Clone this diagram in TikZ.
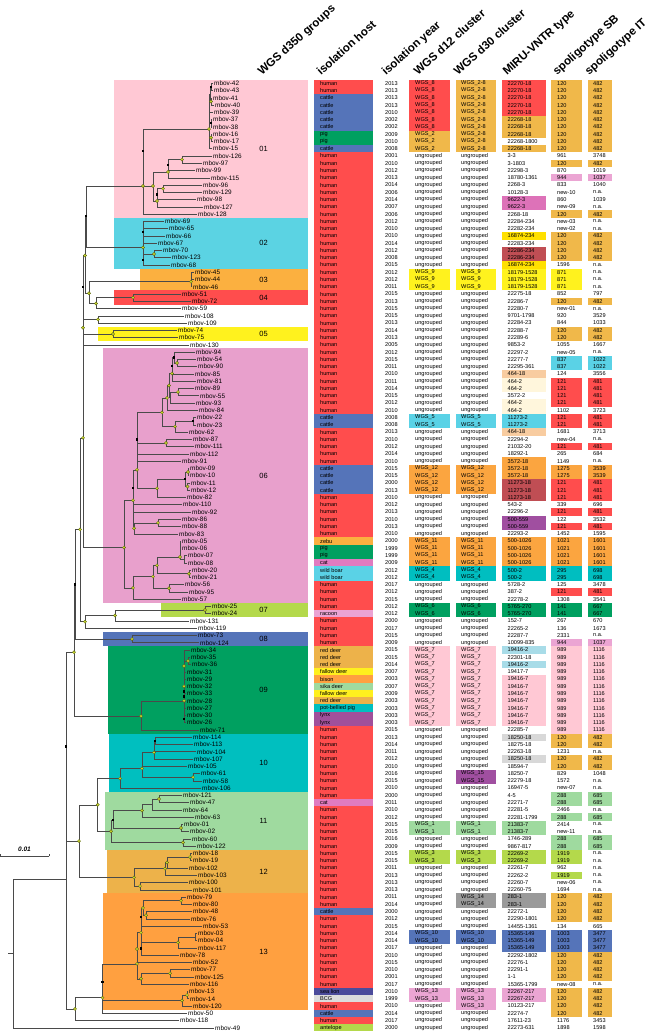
\documentclass[tikz,border=0pt]{standalone}
\usepackage{fontspec}
\setmainfont{Liberation Sans}
% host colours
\definecolor{hu}{HTML}{FF4D4D}\definecolor{ca}{HTML}{5574B9}\definecolor{pi}{HTML}{00A060}
\definecolor{ze}{HTML}{FBB040}\definecolor{ct}{HTML}{E07BC0}\definecolor{wb}{HTML}{5AD2E6}
\definecolor{ra}{HTML}{EBA3D3}\definecolor{rd}{HTML}{EDB24A}\definecolor{fd}{HTML}{FFF01E}
\definecolor{bi}{HTML}{FFA040}\definecolor{sd}{HTML}{9FDA9F}\definecolor{pb}{HTML}{00BFBF}
\definecolor{ly}{HTML}{A0509B}\definecolor{sl}{HTML}{4B4B9B}\definecolor{bc}{HTML}{DCDCDC}
\definecolor{an}{HTML}{B4D94B}
% cell colours
\definecolor{w}{HTML}{FFFFFF}\definecolor{cR}{HTML}{FF4D4D}\definecolor{cO}{HTML}{F0B84A}
\definecolor{cY}{HTML}{FFF21E}\definecolor{cYg}{HTML}{FFE000}\definecolor{cPk}{HTML}{EBA5D3}
\definecolor{cMg}{HTML}{DD72B8}\definecolor{cDr}{HTML}{C04E54}\definecolor{cCy}{HTML}{5AD2E6}
\definecolor{cPe}{HTML}{F8CCA0}\definecolor{cCr}{HTML}{FFF6DC}\definecolor{cOr}{HTML}{FBA540}
\definecolor{cPu}{HTML}{A04FA0}\definecolor{cTe}{HTML}{00BEC0}\definecolor{cGr}{HTML}{00A060}
\definecolor{cLp}{HTML}{FFC8D4}\definecolor{cLb}{HTML}{A8DCE8}\definecolor{cGy}{HTML}{D8D8D8}
\definecolor{cLg}{HTML}{9FDA9F}\definecolor{cLi}{HTML}{B4D94B}\definecolor{cDg}{HTML}{9A9A9A}
\definecolor{cBl}{HTML}{5574B9}
% group colours
\definecolor{gp01}{HTML}{FFC8D4}\definecolor{gp02}{HTML}{5BD3E3}\definecolor{gp03}{HTML}{FBB040}
\definecolor{gp04}{HTML}{FF4D4D}\definecolor{gp05}{HTML}{FFF21E}\definecolor{gp06}{HTML}{E8A0CC}
\definecolor{gp07}{HTML}{B4D94B}\definecolor{gp08}{HTML}{5574B9}\definecolor{gp09}{HTML}{00A060}
\definecolor{gp10}{HTML}{00BFBF}\definecolor{gp11}{HTML}{9FDA9F}\definecolor{gp12}{HTML}{EDB24A}
\definecolor{gp13}{HTML}{FFA040}
\definecolor{ydotc}{HTML}{C9D62F}\definecolor{ydotd}{HTML}{55600A}\definecolor{treec}{HTML}{4A4A4A}
\begin{document}
\begin{tikzpicture}[x=1pt,y=-7.265pt,
  tree/.style={draw=treec,line width=0.5pt},
  leaf/.style={anchor=west,inner xsep=1.2pt,inner ysep=0pt,font=\fontsize{6.4}{6.6}\selectfont},
  tab/.style={anchor=west,inner sep=0pt,font=\fontsize{5.6}{6}\selectfont},
  grp/.style={inner sep=0pt,font=\fontsize{7.5}{8}\selectfont},
  hdr/.style={rotate=42,anchor=base west,inner sep=0pt,font=\bfseries\fontsize{11.5}{12}\selectfont},
  ydot/.style={circle,fill=ydotc,draw=ydotd,line width=0.3pt,inner sep=0pt,minimum size=3.2pt},
  bdot/.style={rectangle,fill=black,inner sep=0pt,minimum size=2.4pt}]
\begin{scope}[yshift=-76.035pt]
\useasboundingbox (0,-10.466) rectangle (652,131.58);
% group backgrounds
\foreach \gn/\gx/\ga/\gb in {01/114/1/19,02/114/20/26,03/140/27/29,04/114/30/31,05/98/35/36,06/103/38/72,07/161/73/74,08/103/77/78,09/108/79/90,10/109/91/98,11/105/99/106,12/107/107/112,13/103/113/128}{
  \path[fill=gp\gn] (\gx,\ga-0.5) rectangle (308,\gb+0.5);
  \node[grp] (G\gn) at (263.5,{(\ga+\gb)/2}) {\gn};
}
% headers
\node[hdr] (h1) at (262,0) {WGS d350 groups};
\node[hdr] (h2) at (321,0) {isolation host};
\node[hdr] (h3) at (386,0) {isolation year};
\node[hdr] (h4) at (418,0) {WGS d12 cluster};
\node[hdr] (h5) at (458,0) {WGS d30 cluster};
\node[hdr] (h6) at (507,0) {MIRU-VNTR type};
\node[hdr] (h7) at (557,0) {spoligotype SB};
\node[hdr] (h8) at (589,0) {spoligotype IT};
% table
\foreach \vr/\vhc/\vht/\vyr/\vda/\vca/\vdb/\vcb/\vmi/\vcm/\vsb/\vcs/\vit/\vci in {
1/hu/human/2013/WGS\_8/cR/WGS\_2-8/cO/22270-18/cR/120/cO/482/cO,
2/hu/human/2013/WGS\_8/cR/WGS\_2-8/cO/22270-18/cR/120/cO/482/cO,
3/ca/cattle/2013/WGS\_8/cR/WGS\_2-8/cO/22270-18/cR/120/cO/482/cO,
4/ca/cattle/2013/WGS\_8/cR/WGS\_2-8/cO/22270-18/cR/120/cO/482/cO,
5/ca/cattle/2010/WGS\_8/cR/WGS\_2-8/cO/22270-18/cR/120/cO/482/cO,
6/ca/cattle/2002/WGS\_8/cR/WGS\_2-8/cO/22268-18/cO/120/cO/482/cO,
7/ca/cattle/2002/WGS\_8/cR/WGS\_2-8/cO/22268-18/cO/120/cO/482/cO,
8/pi/pig/2009/WGS\_2/cO/WGS\_2-8/cO/22268-18/cO/120/cO/482/cO,
9/pi/pig/2010/WGS\_2/cO/WGS\_2-8/cO/22268-1800/w/120/cO/482/cO,
10/ca/cattle/2008/WGS\_2/cO/WGS\_2-8/cO/22268-18/cO/120/cO/482/cO,
11/hu/human/2001/ungrouped/w/ungrouped/w/3-3/w/961/w/3748/w,
12/hu/human/2010/ungrouped/w/ungrouped/w/3-1803/w/120/cO/482/cO,
13/hu/human/2012/ungrouped/w/ungrouped/w/22298-3/w/870/w/1019/w,
14/hu/human/2013/ungrouped/w/ungrouped/w/18780-1361/w/944/cPk/1037/cPk,
15/hu/human/2014/ungrouped/w/ungrouped/w/2268-3/w/833/w/1040/w,
16/hu/human/2006/ungrouped/w/ungrouped/w/10128-3/w/new-10/w/n.a./w,
17/hu/human/2014/ungrouped/w/ungrouped/w/9622-3/cMg/860/w/1039/w,
18/hu/human/2007/ungrouped/w/ungrouped/w/9622-3/cMg/new-09/w/n.a./w,
19/hu/human/2006/ungrouped/w/ungrouped/w/2268-18/w/120/cO/482/cO,
20/hu/human/2012/ungrouped/w/ungrouped/w/22284-234/w/new-03/w/n.a./w,
21/hu/human/2010/ungrouped/w/ungrouped/w/22282-234/w/new-02/w/n.a./w,
22/hu/human/2010/ungrouped/w/ungrouped/w/16874-234/cYg/120/cO/482/cO,
23/hu/human/2014/ungrouped/w/ungrouped/w/22283-234/w/120/cO/482/cO,
24/hu/human/2012/ungrouped/w/ungrouped/w/22286-234/cDr/120/cO/482/cO,
25/hu/human/2008/ungrouped/w/ungrouped/w/22286-234/cDr/120/cO/482/cO,
26/hu/human/2015/ungrouped/w/ungrouped/w/16874-234/cYg/1596/w/n.a./w,
27/hu/human/2012/WGS\_9/cY/WGS\_9/cY/18179-1528/cY/871/cY/n.a./w,
28/hu/human/2012/WGS\_9/cY/WGS\_9/cY/18179-1528/cY/871/cY/n.a./w,
29/hu/human/2011/WGS\_9/cY/WGS\_9/cY/18179-1528/cY/871/cY/n.a./w,
30/hu/human/2015/ungrouped/w/ungrouped/w/22275-18/w/852/w/797/w,
31/hu/human/2013/ungrouped/w/ungrouped/w/22286-7/w/120/cO/482/cO,
32/hu/human/2015/ungrouped/w/ungrouped/w/22280-7/w/new-01/w/n.a./w,
33/hu/human/2015/ungrouped/w/ungrouped/w/9701-1798/w/920/w/3529/w,
34/hu/human/2013/ungrouped/w/ungrouped/w/22284-23/w/844/w/1033/w,
35/hu/human/2014/ungrouped/w/ungrouped/w/22288-7/w/120/cO/482/cO,
36/hu/human/2013/ungrouped/w/ungrouped/w/22289-6/w/120/cO/482/cO,
37/hu/human/2005/ungrouped/w/ungrouped/w/9853-2/w/1055/w/1667/w,
38/hu/human/2012/ungrouped/w/ungrouped/w/22297-2/w/new-05/w/n.a./w,
39/hu/human/2015/ungrouped/w/ungrouped/w/22277-7/w/837/cCy/1022/cCy,
40/hu/human/2011/ungrouped/w/ungrouped/w/22295-361/w/837/cCy/1022/cCy,
41/hu/human/2010/ungrouped/w/ungrouped/w/464-18/cPe/124/w/3556/w,
42/hu/human/2011/ungrouped/w/ungrouped/w/464-2/cCr/121/cR/481/cR,
43/hu/human/2014/ungrouped/w/ungrouped/w/464-2/cCr/121/cR/481/cR,
44/hu/human/2015/ungrouped/w/ungrouped/w/3572-2/w/121/cR/481/cR,
45/hu/human/2012/ungrouped/w/ungrouped/w/464-2/cCr/121/cR/481/cR,
46/hu/human/2010/ungrouped/w/ungrouped/w/464-2/cCr/1102/w/3723/w,
47/ca/cattle/2008/WGS\_5/cCy/WGS\_5/cCy/11273-2/cCy/121/cR/481/cR,
48/ca/cattle/2008/WGS\_5/cCy/WGS\_5/cCy/11273-2/cCy/121/cR/481/cR,
49/hu/human/2013/ungrouped/w/ungrouped/w/464-18/cPe/1681/w/3713/w,
50/hu/human/2010/ungrouped/w/ungrouped/w/22294-2/w/new-04/w/n.a./w,
51/hu/human/2012/ungrouped/w/ungrouped/w/21032-20/w/121/cR/481/cR,
52/hu/human/2014/ungrouped/w/ungrouped/w/18292-1/w/265/w/684/w,
53/hu/human/2010/ungrouped/w/ungrouped/w/3572-18/cOr/1149/w/n.a./w,
54/ca/cattle/2015/WGS\_12/cOr/WGS\_12/cOr/3572-18/cOr/1275/cOr/3539/cOr,
55/ca/cattle/2015/WGS\_12/cOr/WGS\_12/cOr/3572-18/cOr/1275/cOr/3539/cOr,
56/ca/cattle/2000/WGS\_12/cOr/WGS\_12/cOr/11273-18/cDr/121/cR/481/cR,
57/ca/cattle/2013/WGS\_12/cOr/WGS\_12/cOr/11273-18/cDr/121/cR/481/cR,
58/hu/human/2010/ungrouped/w/ungrouped/w/11273-18/cDr/121/cR/481/cR,
59/hu/human/2012/ungrouped/w/ungrouped/w/543-2/w/339/w/696/w,
60/hu/human/2013/ungrouped/w/ungrouped/w/22296-2/w/121/cR/481/cR,
61/hu/human/2010/ungrouped/w/ungrouped/w/500-559/cPu/122/w/3532/w,
62/hu/human/2013/ungrouped/w/ungrouped/w/500-559/cPu/121/cR/481/cR,
63/hu/human/2010/ungrouped/w/ungrouped/w/22293-2/w/1452/w/1595/w,
64/ze/zebu/2000/WGS\_11/cOr/WGS\_11/cOr/500-1026/cOr/1021/cOr/1601/cOr,
65/pi/pig/1999/WGS\_11/cOr/WGS\_11/cOr/500-1026/cOr/1021/cOr/1601/cOr,
66/pi/pig/1999/WGS\_11/cOr/WGS\_11/cOr/500-1026/cOr/1021/cOr/1601/cOr,
67/ct/cat/2009/WGS\_11/cOr/WGS\_11/cOr/500-1026/cOr/1021/cOr/1601/cOr,
68/wb/wild boar/2012/WGS\_4/cTe/WGS\_4/cTe/500-2/cTe/295/cTe/698/cTe,
69/wb/wild boar/2012/WGS\_4/cTe/WGS\_4/cTe/500-2/cTe/295/cTe/698/cTe,
70/hu/human/2017/ungrouped/w/ungrouped/w/5728-2/w/125/w/3478/w,
71/hu/human/2012/ungrouped/w/ungrouped/w/387-2/w/121/cR/481/cR,
72/hu/human/2015/ungrouped/w/ungrouped/w/22278-2/w/1308/w/3541/w,
73/hu/human/2012/WGS\_6/cGr/WGS\_6/cGr/5765-270/cGr/141/cGr/667/cGr,
74/ra/racoon/2012/WGS\_6/cGr/WGS\_6/cGr/5765-270/cGr/141/cGr/667/cGr,
75/hu/human/2000/ungrouped/w/ungrouped/w/152-7/w/267/w/670/w,
76/hu/human/2017/ungrouped/w/ungrouped/w/22265-2/w/136/w/1673/w,
77/hu/human/2015/ungrouped/w/ungrouped/w/22287-7/w/2331/w/n.a./w,
78/hu/human/2009/ungrouped/w/ungrouped/w/10099-835/w/944/cPk/1037/cPk,
79/rd/red deer/2015/WGS\_7/cLp/WGS\_7/cLp/19416-2/cLb/989/cLp/1116/cLp,
80/rd/red deer/2015/WGS\_7/cLp/WGS\_7/cLp/22301-18/w/989/cLp/1116/cLp,
81/rd/red deer/2014/WGS\_7/cLp/WGS\_7/cLp/19416-2/cLb/989/cLp/1116/cLp,
82/fd/fallow deer/2007/WGS\_7/cLp/WGS\_7/cLp/19417-7/w/989/cLp/1116/cLp,
83/bi/bison/2003/WGS\_7/cLp/WGS\_7/cLp/19416-7/cLp/989/cLp/1116/cLp,
84/sd/sika deer/2007/WGS\_7/cLp/WGS\_7/cLp/19416-7/cLp/989/cLp/1116/cLp,
85/fd/fallow deer/2009/WGS\_7/cLp/WGS\_7/cLp/19416-7/cLp/989/cLp/1116/cLp,
86/rd/red deer/2003/WGS\_7/cLp/WGS\_7/cLp/19416-7/cLp/989/cLp/1116/cLp,
87/pb/pot-bellied pig/2003/WGS\_7/cLp/WGS\_7/cLp/19416-7/cLp/989/cLp/1116/cLp,
88/ly/lynx/2003/WGS\_7/cLp/WGS\_7/cLp/19416-7/cLp/989/cLp/1116/cLp,
89/ly/lynx/2003/WGS\_7/cLp/WGS\_7/cLp/19416-7/cLp/989/cLp/1116/cLp,
90/hu/human/2015/ungrouped/w/ungrouped/w/22285-7/w/989/cLp/1116/cLp,
91/hu/human/2013/ungrouped/w/ungrouped/w/18250-18/cGy/120/cO/482/cO,
92/hu/human/2014/ungrouped/w/ungrouped/w/18275-18/w/120/cO/482/cO,
93/hu/human/2011/ungrouped/w/ungrouped/w/22263-18/w/1231/w/n.a./w,
94/hu/human/2012/ungrouped/w/ungrouped/w/18250-18/cGy/120/cO/482/cO,
95/hu/human/2010/ungrouped/w/ungrouped/w/18594-7/w/120/cO/482/cO,
96/hu/human/2016/ungrouped/w/WGS\_15/cPu/18250-7/w/829/w/1048/w,
97/hu/human/2015/ungrouped/w/WGS\_15/cPu/22279-18/w/1572/w/n.a./w,
98/hu/human/2010/ungrouped/w/ungrouped/w/16947-5/w/new-07/w/n.a./w,
99/hu/human/2000/ungrouped/w/ungrouped/w/4-5/w/288/cLg/685/cLg,
100/ct/cat/2011/ungrouped/w/ungrouped/w/22271-7/w/288/cLg/685/cLg,
101/hu/human/2010/ungrouped/w/ungrouped/w/22281-5/w/2466/w/n.a./w,
102/hu/human/2012/ungrouped/w/ungrouped/w/22281-1799/w/288/cLg/685/cLg,
103/hu/human/2015/WGS\_1/cLg/WGS\_1/cLg/21383-7/cLg/2414/w/n.a./w,
104/hu/human/2015/WGS\_1/cLg/WGS\_1/cLg/21383-7/cLg/new-11/w/n.a./w,
105/hu/human/2016/ungrouped/w/ungrouped/w/1746-289/w/288/cLg/685/cLg,
106/hu/human/2009/ungrouped/w/ungrouped/w/9867-817/w/288/cLg/685/cLg,
107/hu/human/2015/WGS\_3/cLi/WGS\_3/cLi/22269-2/cLi/1919/cLi/n.a./w,
108/hu/human/2015/WGS\_3/cLi/WGS\_3/cLi/22269-2/cLi/1919/cLi/n.a./w,
109/hu/human/2011/ungrouped/w/ungrouped/w/22261-7/w/962/w/n.a./w,
110/hu/human/2013/ungrouped/w/ungrouped/w/22262-2/w/1919/cLi/n.a./w,
111/hu/human/2013/ungrouped/w/ungrouped/w/22260-7/w/new-06/w/n.a./w,
112/hu/human/2013/ungrouped/w/ungrouped/w/22260-75/w/1694/w/n.a./w,
113/hu/human/2011/ungrouped/w/WGS\_14/cDg/283-1/cDg/120/cO/482/cO,
114/hu/human/2014/ungrouped/w/WGS\_14/cDg/283-1/cDg/120/cO/482/cO,
115/ca/cattle/2000/ungrouped/w/ungrouped/w/22272-1/w/120/cO/482/cO,
116/hu/human/2012/ungrouped/w/ungrouped/w/22290-1801/w/120/cO/482/cO,
117/hu/human/2015/ungrouped/w/ungrouped/w/14455-1361/w/134/w/665/w,
118/hu/human/2014/WGS\_10/cBl/WGS\_10/cBl/15365-149/cBl/1003/cBl/3477/cBl,
119/hu/human/2014/WGS\_10/cBl/WGS\_10/cBl/15365-149/cBl/1003/cBl/3477/cBl,
120/hu/human/2017/ungrouped/w/ungrouped/w/15365-149/cBl/1003/cBl/3477/cBl,
121/hu/human/2010/ungrouped/w/ungrouped/w/22292-1802/w/120/cO/482/cO,
122/hu/human/2015/ungrouped/w/ungrouped/w/22276-1/w/120/cO/482/cO,
123/hu/human/2010/ungrouped/w/ungrouped/w/22291-1/w/120/cO/482/cO,
124/hu/human/2001/ungrouped/w/ungrouped/w/1-1/w/120/cO/482/cO,
125/hu/human/2017/ungrouped/w/ungrouped/w/15365-1799/w/new-08/w/n.a./w,
126/sl/sea lion/2010/WGS\_13/cPk/WGS\_13/cPk/22267-217/cPk/120/cO/482/cO,
127/bc/BCG/1999/WGS\_13/cPk/WGS\_13/cPk/22267-217/cPk/120/cO/482/cO,
128/hu/human/2010/ungrouped/w/WGS\_13/cPk/10123-217/w/120/cO/482/cO,
129/ca/cattle/2014/ungrouped/w/ungrouped/w/22274-7/w/120/cO/482/cO,
130/hu/human/2017/ungrouped/w/ungrouped/w/17611-23/w/1176/w/3453/w,
131/an/antelope/2000/ungrouped/w/ungrouped/w/22273-631/w/1898/w/1598/w}{
  \path[fill=\vhc] (314,\vr-0.5) rectangle (373,\vr+0.5);
  \path[fill=\vca] (409,\vr-0.5) rectangle (450,\vr+0.5);
  \path[fill=\vcb] (456,\vr-0.5) rectangle (496,\vr+0.5);
  \path[fill=\vcm] (502,\vr-0.5) rectangle (546,\vr+0.5);
  \path[fill=\vcs] (551,\vr-0.5) rectangle (582,\vr+0.5);
  \path[fill=\vci] (588,\vr-0.5) rectangle (612,\vr+0.5);
  \node[tab] (ho\vr) at (320,\vr) {\vht};
  \node[tab] (yr\vr) at (385,\vr) {\vyr};
  \node[tab] (da\vr) at (415,\vr) {\vda};
  \node[tab] (db\vr) at (461,\vr) {\vdb};
  \node[tab] (mi\vr) at (507.5,\vr) {\vmi};
  \node[tab] (sb\vr) at (557,\vr) {\vsb};
  \node[tab] (it\vr) at (593,\vr) {\vit};
}
% leaves
\foreach \vr/\vid/\vlx in {1/42/214,2/43/214,3/41/213,4/40/215,5/39/214,6/37/213,7/38/213,8/16/213,9/17/214,10/15/213,
11/126/213,12/97/203,13/99/196,14/115/211,15/96/203,16/129/203,17/98/197,18/127/204,19/128/198,
20/69/165,21/65/169,22/66/166,23/67/158,24/70/163,25/123/172,26/68/171,27/45/195,28/44/195,29/46/193,
30/51/182,31/72/192,32/59/182,33/108/185,34/109/188,35/74/178,36/75/179,37/130/190,
38/94/196,39/54/197,40/90/198,41/85/195,42/81/197,43/89/195,44/55/200,45/93/196,46/84/199,47/22/197,48/23/197,49/62/189,
50/87/193,51/111/195,52/112/190,53/91/182,54/09/190,55/10/190,56/11/191,57/12/191,58/82/187,59/110/183,60/92/192,
61/86/182,62/88/182,63/83/179,64/05/182,65/06/182,66/07/188,67/08/188,68/20/192,69/21/192,70/56/185,71/95/189,72/57/182,
73/25/212,74/24/212,75/131/190,76/119/198,77/73/198,78/124/200,
79/34/191,80/35/191,81/36/192,82/31/187,83/29/187,84/32/187,85/33/187,86/28/187,87/27/187,88/30/187,89/26/187,90/71/200,
91/114/193,92/113/194,93/104/197,94/107/194,95/105/188,96/61/201,97/58/203,98/106/202,
99/121/183,100/47/190,101/64/183,102/63/195,103/01/184,104/02/190,105/60/192,106/122/197,
107/18/193,108/19/193,109/102/189,110/103/198,111/100/189,112/101/193,
113/79/187,114/80/193,115/48/193,116/76/191,117/53/203,118/03/198,119/04/198,120/117/198,121/78/180,122/52/193,
123/77/191,124/125/195,125/116/190,126/13/189,127/14/190,128/120/193,129/50/188,130/118/180,131/49/215}{
  \coordinate (t\vid) at ({\vlx-1.2},\vr);
  \node[leaf] (l\vid) at (t\vid) {mbov-\vid};
}
% internal nodes
\foreach \vn/\vx/\vy in {c1a/211/1.5,c1b/211/3.5,c1c/210/2.5,c1d/211/6.5,c1g/211/8.5,c1e/209/7.3,
a4/182/11.5,a2a/168/12.25,a2/168/13.2,a5/163/15.5,a6/157/17.2,a1/153/15.14,g01/143/15.14,
b1/154/24.5,g02/143/23.6,p1/86/19.3,g03/191/28.3,g04/133/30.5,q4/96/31.3,q3/89/29.9,s1/85/24.7,
q5/98/33.5,s2/83/29.05,g05/113/35.5,s3a/83/32.3,s3/83/34.65,
g6a/177/39.5,g6b/174/38.75,g6c/172/39.9,g6d/172/40.95,g6e/178/43.5,g6f/170/44.25,g6g/169/42.6,
g6h/167/44.3,g6i/193/47.5,g6j/175/48.25,g6k/162/46.3,g6l/166/50.5,g6n/137/50.05,g6o/188/54.5,
g6p/187.5/56.5,g6q/185/55.5,g6r/157/56.75,g6s/137/54.2,g6t/133/56.7,g6u/158/61.5,g6v/134/62.25,
g6w/133/58.4,g6y1/184/66.5,g6y/180/66.2,g6z/189/68.5,g6aa/157/67.35,g6ab/169/70.5,g6ac/153/68.9,
g6x/133/70.45,g06/124/64.9,s4/83/49.8,g07/205/73.5,k2/115/74.25,k1/85/75.1,s5/80/62.4,
g08/132/77.5,s6/75/70,c9a/188/80.5,c9/184/86,g09/141/88.1,u1/74/79.3,
g10a/155/91.5,g10b/154/93.1,g10c/193/96.5,g10d/142/95.3,g10/120/96.7,
g11a/159/99.5,g11b/152/100.25,g11c/142/101.1,g11d/181/103.5,g11e/183/105.5,g11x/113/102.4,g11/111/103.95,l1/97.7/100.3,
g12a/190/107.5,g12b/167/108.25,g12c/165/109.1,g12d/140/111.5,g12/134/110.3,lL/79/105.3,n1a/66/92.3,
g13a/181/113.5,g13b/146/115.5,g13c/143/114.5,g13d/141/115.75,g13e/195/118.5,g13f/178/119.25,
g13g/141/120.1,g13h/141/117.9,g13i/137/120.15,g13j/170/123.5,g13k/141/124.25,g13l/187/126.5,
g13m/182/127.25,g13y/137/122.2,g13/102.5/124.7,g13x/102.5/126.85,lb/75/128.4,n1/66/110.5,
root/13.3/120.75,rstub/8.3/120.75}{
  \coordinate (\vn) at (\vx,\vy);
}
% branches
\foreach \vp/\vc in {c1a/t42,c1a/t43,c1b/t41,c1b/t40,c1c/c1a,c1c/c1b,c1d/t37,c1d/t38,c1g/t16,c1g/t17,
c1e/c1c,c1e/t39,c1e/c1d,c1e/c1g,c1e/t15,
a4/t126,a4/t97,a2a/a4,a2a/t99,a2/a2a,a2/t115,a5/t96,a5/t129,a6/a5,a6/t98,a6/t127,a1/a2,a1/a6,
g01/c1e,g01/a1,g01/t128,
b1/t70,b1/t123,g02/t69,g02/t65,g02/t66,g02/t67,g02/b1,g02/t68,p1/g01,p1/g02,
g03/t45,g03/t44,g03/t46,g04/t51,g04/t72,q4/g04,q4/t59,q3/g03,q3/q4,s1/p1,s1/q3,q5/t108,q5/t109,
s2/s1,s2/q5,g05/t74,g05/t75,s3a/s2,s3a/g05,s3/s3a,s3/t130,
g6a/t54,g6a/t90,g6b/t94,g6b/g6a,g6c/g6b,g6c/t85,g6d/g6c,g6d/t81,g6e/t89,g6e/t55,g6f/g6e,g6f/t93,
g6g/g6d,g6g/g6f,g6h/g6g,g6h/t84,g6i/t22,g6i/t23,g6j/g6i,g6j/t62,g6k/g6h,g6k/g6j,g6l/t87,g6l/t111,
g6n/g6k,g6n/g6l,g6n/t112,g6n/t91,g6o/t09,g6o/t10,g6p/t11,g6p/t12,g6q/g6o,g6q/g6p,g6r/g6q,g6r/t82,
g6s/g6n,g6s/g6r,g6t/g6s,g6t/t110,g6t/t92,g6u/t86,g6u/t88,g6v/g6u,g6v/t83,g6w/g6t,g6w/g6v,
g6y1/t07,g6y1/t08,g6y/t05,g6y/t06,g6y/g6y1,g6z/t20,g6z/t21,g6aa/g6y,g6aa/g6z,g6ab/t56,g6ab/t95,
g6ac/g6aa,g6ac/g6ab,g6x/g6ac,g6x/t57,g06/g6w,g06/g6x,
s4/s3,s4/g06,g07/t25,g07/t24,k2/g07,k2/t131,k1/k2,k1/t119,s5/s4,s5/k1,g08/t73,g08/t124,s6/s5,s6/g08,
c9a/t35,c9a/t36,c9/t34,c9/c9a,c9/t31,c9/t29,c9/t32,c9/t33,c9/t28,c9/t27,c9/t30,c9/t26,g09/c9,g09/t71,
u1/s6,u1/g09,
g10a/t114,g10a/t113,g10b/g10a,g10b/t104,g10b/t107,g10c/t61,g10c/t58,g10d/g10b,g10d/t105,g10d/g10c,
g10/g10d,g10/t106,
g11a/t121,g11a/t47,g11b/g11a,g11b/t64,g11c/g11b,g11c/t63,g11d/t01,g11d/t02,g11e/t60,g11e/t122,
g11x/g11c,g11x/g11d,g11/g11x,g11/g11e,l1/g10,l1/g11,
g12a/t18,g12a/t19,g12b/g12a,g12b/t102,g12c/g12b,g12c/t103,g12d/t100,g12d/t101,g12/g12c,g12/g12d,
lL/l1,lL/g12,n1a/u1,n1a/lL,
g13a/t79,g13a/t80,g13b/t48,g13b/t76,g13c/g13a,g13c/g13b,g13d/g13c,g13d/t53,g13e/t03,g13e/t04,
g13f/g13e,g13f/t117,g13g/g13f,g13g/t78,g13h/g13d,g13h/g13g,g13i/g13h,g13i/t52,g13j/t77,g13j/t125,
g13k/g13j,g13k/t116,g13l/t13,g13l/t14,g13m/g13l,g13m/t120,g13y/g13i,g13y/g13k,g13/g13y,g13/g13m,
g13x/g13,g13x/t50,lb/g13x,lb/t118,n1/n1a,n1/lb,root/n1,root/t49}{
  \draw[tree] (\vp) |- (\vc);
}
\draw[tree] (rstub) -- (root);
% support markers
\foreach \vn in {c1e,c1g,c1b,a4,a2,a5,a6,a1,g01,b1,g02,g03,g04,q4,q3,s1,q5,g05,s3,
g6a,g6d,g6e,g6g,g6h,g6j,g6k,g6l,g6o,g6p,g6r,g6s,g6u,g6v,g6w,g6y,g6z,g6aa,g6ab,g6ac,g6x,g06,
s4,g07,k2,k1,s5,g08,c9a,c9,g09,u1,g10b,g10c,g10d,g10,g11a,g11c,g11d,g11e,g11,l1,
g12a,g12b,g12c,g12d,g12,lL,g13a,g13b,g13c,g13f,g13h,g13i,g13y,g13j,g13k,g13l,g13m,g13x,lb}{
  \node[ydot] at (\vn) {};
}
\foreach \vn in {c1a,c1d,a2a,p1,s2,g6b,g6c,g6i,g6n,g6q,g6t,s6,g10a,n1a,g11x,g13d,g13g,g13}{
  \node[bdot] at (\vn) {};
}
\foreach \vx/\vy in {143/10.3,143/21.5,143/25.3,157/16.3,184/84.7,184/85.4,184/88.5}{
  \node[bdot] at (\vx,\vy) {};
}
\foreach \vx/\vy in {184/81.2,184/84}{
  \node[ydot] at (\vx,\vy) {};
}
% scale bar
\coordinate (sc0) at (0.4,107.4);
\coordinate (sc1) at (49,107.4);
\draw[tree] (sc0) -- (sc1);
\draw[tree] (sc0) -- +(0,-0.35);
\draw[tree] (sc1) -- +(0,-0.35);
\node[font=\bfseries\itshape\fontsize{6.5}{6.5}\selectfont,inner sep=0pt] (sclab) at (24.5,106.4) {0.01};
\end{scope}
\end{tikzpicture}
\end{document}
